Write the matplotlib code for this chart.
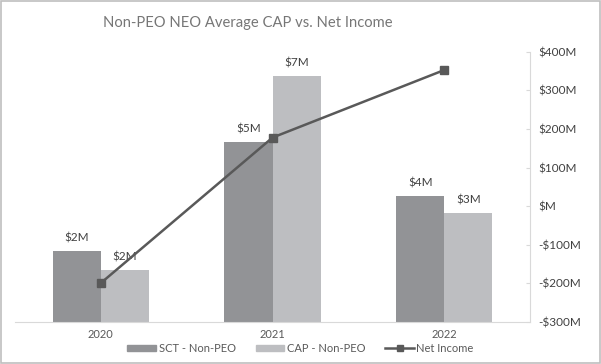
import matplotlib.pyplot as plt
import matplotlib.patches as mpatches
from matplotlib.lines import Line2D
import numpy as np

plt.rcParams['font.family'] = ['Lato', 'DejaVu Sans']

years = ['2020', '2021', '2022']
sct_non_peo = [2.1, 5.33, 3.73]      # $M
cap_non_peo = [1.54, 7.3, 3.23]      # $M
net_income = [-199, 178, 353]        # $M

c_sct = '#929396'
c_cap = '#bdbec1'
c_line = '#595959'
c_text = '#404040'
c_axis = '#d9d9d9'

fig = plt.figure(figsize=(6.01, 3.64), dpi=100)
fig.patch.set_facecolor('white')
# gray frame around the chart
fig.add_artist(mpatches.Rectangle((0.001, 0.002), 0.997, 0.995, transform=fig.transFigure,
                                  fill=False, edgecolor='#bfbfbf', linewidth=1.2))

ax = fig.add_axes([0.025, 0.1154, 0.857, 0.742])
x = np.arange(len(years))
w = 0.28
b1 = ax.bar(x - w / 2, sct_non_peo, w, color=c_sct, label='SCT - Non-PEO')
b2 = ax.bar(x + w / 2, cap_non_peo, w, color=c_cap, label='CAP - Non-PEO')
ax.set_ylim(0, 8)
ax.set_xlim(-0.5, 2.5)

for bars, vals in [(b1, sct_non_peo), (b2, cap_non_peo)]:
    for bar, v in zip(bars, vals):
        ax.text(bar.get_x() + bar.get_width() / 2, v + 0.22, f'${round(v)}M',
                ha='center', va='bottom', fontsize=8.5, color=c_text)

ax.set_xticks(x)
ax.set_xticklabels(years, fontsize=8, color='#595959')
ax.tick_params(axis='x', length=0, pad=5)
ax.set_yticks([])
for s in ['top', 'left', 'right']:
    ax.spines[s].set_visible(False)
ax.spines['bottom'].set_color(c_axis)

ax2 = ax.twinx()
ax2.plot(x, net_income, color=c_line, linewidth=1.8, marker='s', markersize=6,
         label='Net Income')
ax2.set_ylim(-300, 400)
ax2.set_yticks(np.arange(-300, 401, 100))


def money(v):
    v = int(v)
    if v == 0:
        return '$M'
    return f'-${abs(v)}M' if v < 0 else f'${v}M'


ax2.set_yticklabels([money(t) for t in ax2.get_yticks()], fontsize=8.5, color=c_text)
ax2.tick_params(axis='y', direction='in', length=3, color=c_axis, pad=6)
for s in ['top', 'left', 'bottom']:
    ax2.spines[s].set_visible(False)
ax2.spines['right'].set_color(c_axis)

fig.text(0.413, 0.938, 'Non-PEO NEO Average CAP vs. Net Income', ha='center', va='center',
         fontsize=10.6, color='#767676')

handles = [mpatches.Patch(color=c_sct), mpatches.Patch(color=c_cap),
           Line2D([], [], color=c_line, marker='s', markersize=5, linewidth=1.8)]
fig.legend(handles, ['SCT - Non-PEO', 'CAP - Non-PEO', 'Net Income'], loc='center',
           bbox_to_anchor=(0.5, 0.043), ncol=3, frameon=False, fontsize=8,
           handlelength=2.6, handleheight=0.5, handletextpad=0.2, columnspacing=1.8,
           labelcolor='#595959')

fig.savefig('out.png', dpi=100)
